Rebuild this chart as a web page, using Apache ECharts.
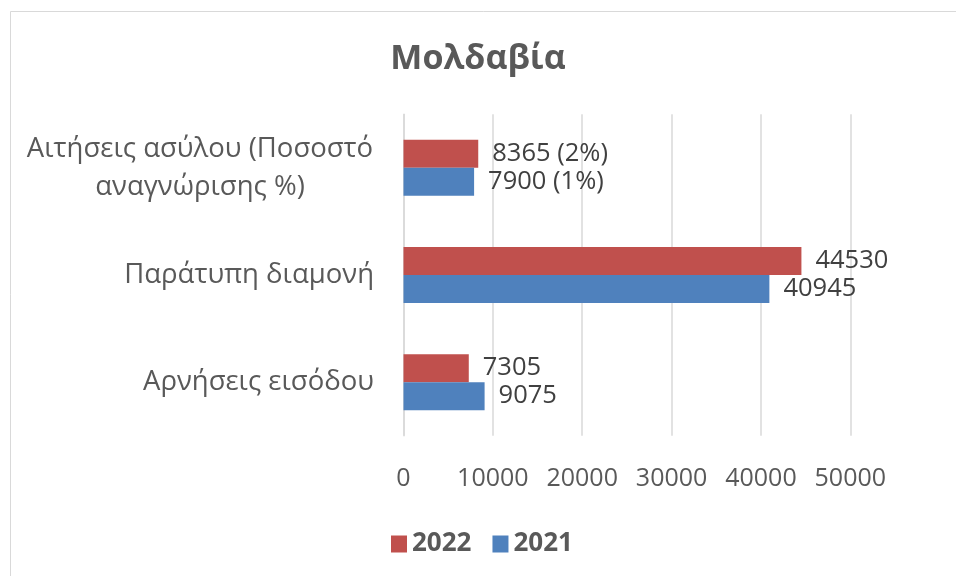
<!DOCTYPE html>
<html>
<head>
<meta charset="utf-8">
<script src="https://cdn.jsdelivr.net/npm/echarts@6/dist/echarts.min.js"></script>
<style>
html,body{margin:0;padding:0;background:#fff;}
#chart{width:956px;height:576px;}
</style>
</head>
<body>
<div id="chart"></div>
<script>
var title = 'Μολδαβία';
var categories = ['Αρνήσεις εισόδου', 'Παράτυπη διαμονή', 'Αιτήσεις ασύλου (Ποσοστό\nαναγνώρισης %)'];
var seriesNames = ['2022', '2021'];
var values2022 = [7305, 44530, 8365];
var values2021 = [9075, 40945, 7900];
var rate2022 = [null, null, 2];
var rate2021 = [null, null, 1];
var xTicks = [0, 10000, 20000, 30000, 40000, 50000];

var FONT = '"Open Sans", "Noto Sans", sans-serif';
var chart = echarts.init(document.getElementById('chart'), null, {renderer: 'canvas'});

function labelFormatter(rates) {
  return function (p) {
    var r = rates[p.dataIndex];
    return r == null ? String(p.value) : p.value + ' (' + r + '%)';
  };
}

chart.setOption({
  animation: false,
  backgroundColor: '#ffffff',
  graphic: [{
    type: 'rect',
    left: 8, top: 9,
    shape: {width: 1000, height: 600},
    style: {fill: 'none', stroke: '#D9D9D9', lineWidth: 1},
    silent: true
  }],
  title: {
    text: title,
    left: 473, top: 37, textAlign: 'center',
    textStyle: {fontFamily: FONT, fontSize: 34, fontWeight: 'bold', color: '#595959'}
  },
  legend: {
    data: seriesNames,
    left: 391, top: 531, padding: 0,
    itemWidth: 16, itemHeight: 17, itemGap: 21,
    icon: 'rect',
    textStyle: {fontFamily: FONT, fontSize: 26, fontWeight: 'bold', color: '#595959'}
  },
  grid: {left: 403.5, right: 105.7, top: 114.3, bottom: 140.3, containLabel: false},
  xAxis: {
    type: 'value',
    min: xTicks[0], max: xTicks[xTicks.length - 1], interval: 10000,
    axisLine: {show: false},
    axisTick: {show: false},
    splitLine: {show: true, lineStyle: {color: '#D9D9D9', width: 1.5}},
    axisLabel: {
      margin: 31,
      fontFamily: FONT, fontSize: 25, color: '#595959',
      formatter: function (v) { return String(v); }
    }
  },
  yAxis: {
    type: 'category',
    data: categories,
    axisLine: {show: true, lineStyle: {color: '#D9D9D9', width: 1.5}},
    axisTick: {show: false},
    axisLabel: {
      margin: 29.5,
      fontFamily: FONT, fontSize: 27.5, color: '#595959',
      formatter: function (v) {
        if (v.indexOf('\n') >= 0) {
          return v.split('\n').map(function (s) { return '{c|' + s + '}'; }).join('\n');
        }
        return v;
      },
      rich: {
        c: {fontFamily: FONT, fontSize: 27.5, color: '#595959', align: 'center', width: 348, lineHeight: 38}
      }
    }
  },
  series: [{
    name: seriesNames[0], type: 'bar', data: values2022,
    barWidth: 28, barGap: '0%',
    itemStyle: {color: '#C0504D'},
    label: {show: true, position: 'right', distance: 14, fontFamily: FONT, fontSize: 25.5, color: '#404040',
      formatter: labelFormatter(rate2022)}
  }, {
    name: seriesNames[1], type: 'bar', data: values2021,
    barWidth: 28, barGap: '0%',
    itemStyle: {color: '#4F81BD'},
    label: {show: true, position: 'right', distance: 14, fontFamily: FONT, fontSize: 25.5, color: '#404040',
      formatter: labelFormatter(rate2021)}
  }]
});
</script>
</body>
</html>
